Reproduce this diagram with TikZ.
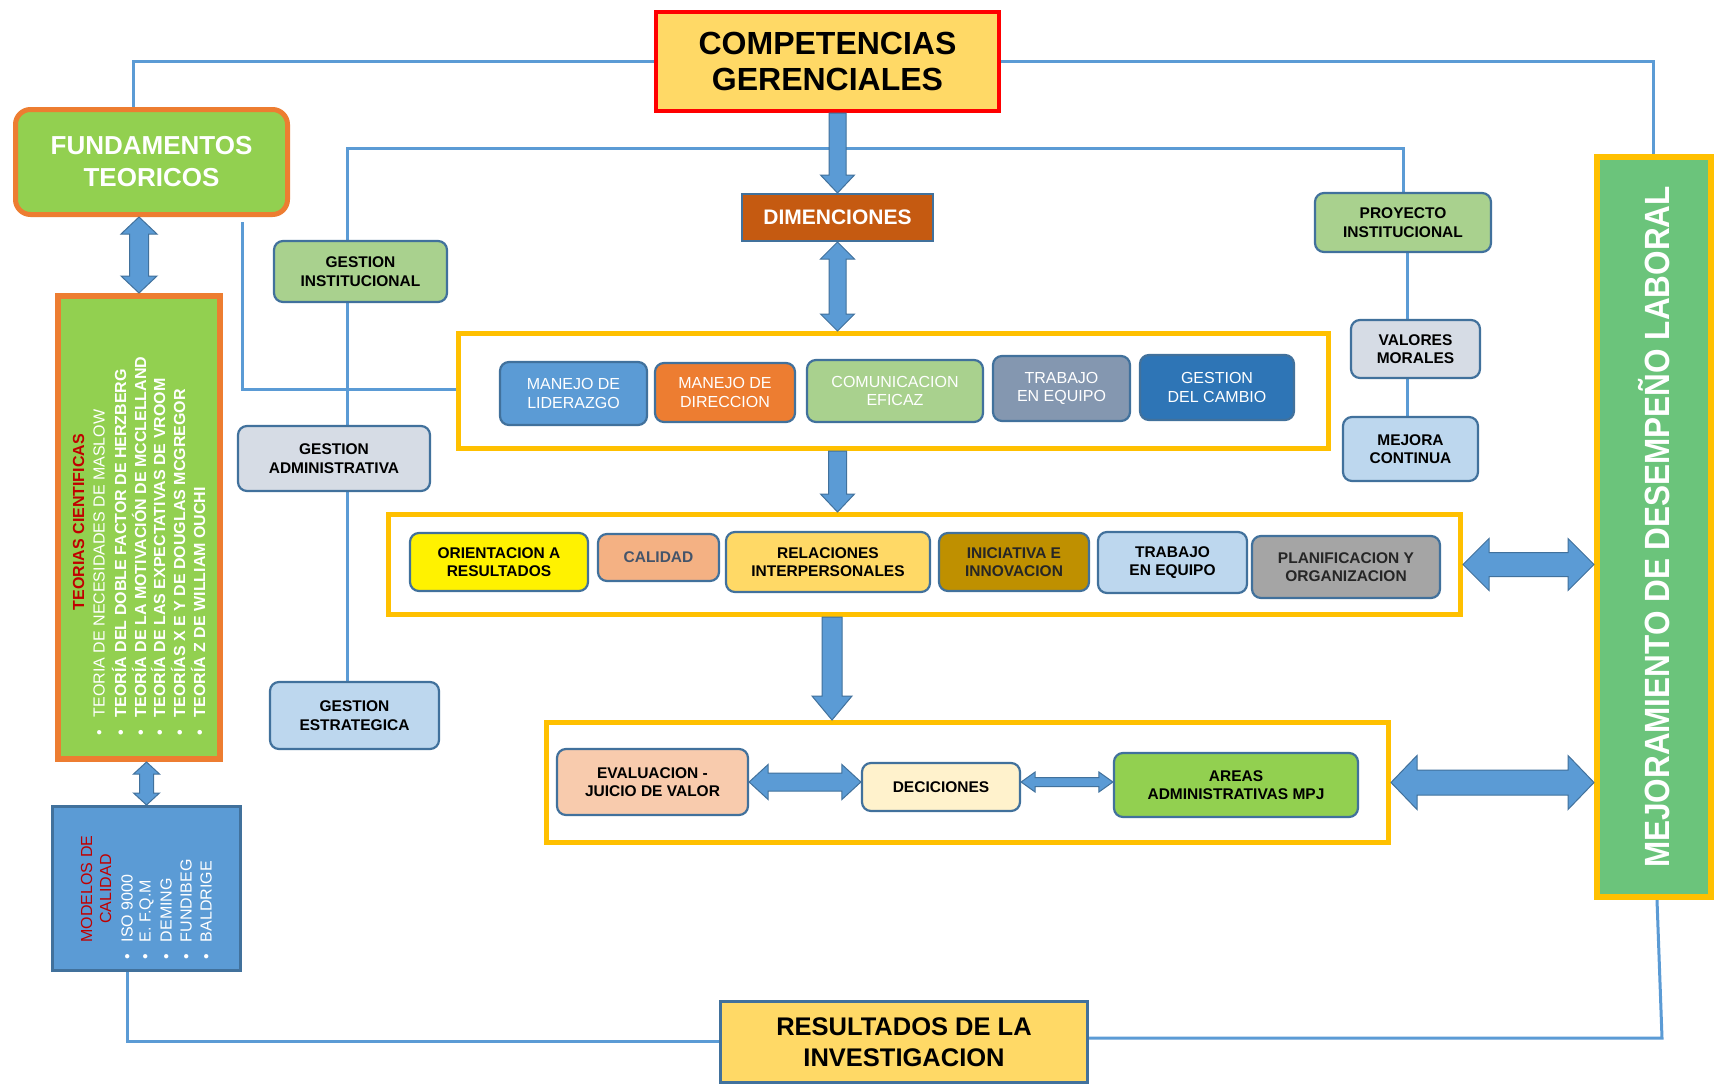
\documentclass[tikz,border=0pt]{standalone}
\usepackage{fontspec}
\usepackage{graphicx}
\setmainfont{Liberation Sans}
\usetikzlibrary{calc}

\definecolor{lineblue}{HTML}{5B9BD5}
\definecolor{edgeblue}{HTML}{41719C}
\definecolor{gold}{HTML}{FFC000}
\definecolor{paleyellow}{HTML}{FFD966}
\definecolor{leafgreen}{HTML}{92D050}
\definecolor{sage}{HTML}{A9D18E}
\definecolor{orangeline}{HTML}{ED7D31}
\definecolor{rust}{HTML}{C55A11}
\definecolor{mist}{HTML}{D6DCE5}
\definecolor{sky}{HTML}{BDD7EE}
\definecolor{slate}{HTML}{8497B0}
\definecolor{deepblue}{HTML}{2E75B6}
\definecolor{peach}{HTML}{F4B183}
\definecolor{ochre}{HTML}{BF9000}
\definecolor{midgray}{HTML}{A5A5A5}
\definecolor{salmon}{HTML}{F8CBAD}
\definecolor{cream}{HTML}{FFF2CC}
\definecolor{grassgreen}{HTML}{6BC47B}
\definecolor{darkred}{HTML}{C00000}
\definecolor{bluegray}{HTML}{44546A}
\definecolor{nearblack}{HTML}{262626}

\pgfdeclarelayer{bgfill}
\pgfdeclarelayer{background}
\pgfsetlayers{bgfill,background,main}

\tikzset{
  conn/.style={draw=lineblue, line width=3pt},
  blockarrow/.style={fill=lineblue, draw=edgeblue, line width=1pt, line join=miter},
  card/.style={draw=edgeblue, line width=2.2pt, rounded corners=9pt, inner sep=1pt,
    align=center, font=\fontsize{15.5}{18.5}\selectfont\bfseries},
  lightcard/.style={card, text=white, font=\fontsize{16}{18.5}\selectfont},
  frame/.style={draw=gold, line width=5pt, fill=white},
  vtext/.style={rotate=90, anchor=west, inner sep=0, text=white},
}

% block arrow pointing down: #1 top, #2 tip, #3 shaft half width, #4 head half width, #5 head length
\newcommand\blockdown[5]{\filldraw[blockarrow] let \p1=(#1), \p2=(#2) in
  (\x1-#3,\y1) -- (\x1+#3,\y1) -- (\x1+#3,\y2+#5) -- (\x1+#4,\y2+#5) -- (\x1,\y2)
  -- (\x1-#4,\y2+#5) -- (\x1-#3,\y2+#5) -- cycle;}
% vertical double block arrow: #1 top tip, #2 bottom tip
\newcommand\blockvboth[5]{\filldraw[blockarrow] let \p1=(#1), \p2=(#2) in
  (\x1,\y1) -- (\x1+#4,\y1-#5) -- (\x1+#3,\y1-#5) -- (\x1+#3,\y2+#5) -- (\x1+#4,\y2+#5)
  -- (\x1,\y2) -- (\x1-#4,\y2+#5) -- (\x1-#3,\y2+#5) -- (\x1-#3,\y1-#5) -- (\x1-#4,\y1-#5) -- cycle;}
% horizontal double block arrow: #1 left tip, #2 right tip
\newcommand\blockhboth[5]{\filldraw[blockarrow] let \p1=(#1), \p2=(#2) in
  (\x1,\y1) -- (\x1+#5,\y1+#4) -- (\x1+#5,\y1+#3) -- (\x2-#5,\y1+#3) -- (\x2-#5,\y1+#4)
  -- (\x2,\y1) -- (\x2-#5,\y1-#4) -- (\x2-#5,\y1-#3) -- (\x1+#5,\y1-#3) -- (\x1+#5,\y1-#4) -- cycle;}

\begin{document}
\begin{tikzpicture}[x=1pt,y=-1pt]
\useasboundingbox (0,0) rectangle (1714,1085);
\begin{pgfonlayer}{bgfill}
  \fill[white] (0,0) rectangle (1714,1085);
\end{pgfonlayer}

% ---------- main headings ----------
\node[draw=red, line width=4pt, fill=paleyellow, minimum width=343, minimum height=99,
  align=center, inner sep=0, font=\fontsize{32}{36}\selectfont\bfseries]
  (comp) at (827.5,61.5) {COMPETENCIAS\\GERENCIALES};

\node[draw=orangeline, line width=5pt, fill=leafgreen, rounded corners=15pt,
  minimum width=272, minimum height=105, align=center, text=white,
  font=\fontsize{26}{32}\selectfont\bfseries] (fund) at (151.5,162) {FUNDAMENTOS\\TEORICOS};

\node[draw=edgeblue, line width=3pt, fill=paleyellow, minimum width=367, minimum height=81,
  align=center, inner sep=0, font=\fontsize{25.5}{31}\selectfont\bfseries]
  (res) at (904,1042) {RESULTADOS DE LA\\INVESTIGACION};

\node[draw=gold, line width=6pt, fill=grassgreen, minimum width=114, minimum height=740,
  text=white, inner sep=0, font=\fontsize{35}{40}\selectfont\bfseries]
  (mej) at (1654,527) {\rotatebox{90}{\scalebox{0.9}[1]{MEJORAMIENTO DE DESEMPEÑO LABORAL}}};

\node[draw=edgeblue, line width=2pt, fill=rust, minimum width=191, minimum height=47,
  text=white, inner sep=0, font=\fontsize{21}{24}\selectfont\bfseries]
  (dim) at (837.5,217.5) {DIMENCIONES};

% ---------- scientific theories ----------
\node[draw=orangeline, line width=6pt, fill=leafgreen, minimum width=162, minimum height=463]
  (teo) at (139,527.5) {};
\node[rotate=90, inner sep=0, text=darkred, font=\fontsize{16}{19}\selectfont\bfseries]
  (teotit) at (78.5,522) {TEORIAS CIENTIFICAS};
\node[vtext, font=\fontsize{16}{19}\selectfont] (teo1) at (99,736)
  {•\hspace{13pt}TEORIA DE NECESIDADES DE MASLOW};
\node[vtext, font=\fontsize{16}{19}\selectfont\bfseries] (teo2) at (119,736)
  {•\hspace{13pt}TEORÍA DEL DOBLE FACTOR DE HERZBERG};
\node[vtext, font=\fontsize{16}{19}\selectfont\bfseries] (teo3) at (139,736)
  {•\hspace{13pt}TEORÍA DE LA MOTIVACIÓN DE MCCLELLAND};
\node[vtext, font=\fontsize{16}{19}\selectfont\bfseries] (teo4) at (158,736)
  {•\hspace{13pt}TEORÍA DE LAS EXPECTATIVAS DE VROOM};
\node[vtext, font=\fontsize{16}{19}\selectfont\bfseries] (teo5) at (178,736)
  {•\hspace{13pt}TEORÍAS X E Y DE DOUGLAS MCGREGOR};
\node[vtext, font=\fontsize{16}{19}\selectfont\bfseries] (teo6) at (198,736)
  {•\hspace{13pt}TEORÍA Z DE WILLIAM OUCHI};

% ---------- quality models ----------
\node[draw=edgeblue, line width=3pt, fill=lineblue, minimum width=188, minimum height=164]
  (mod) at (146.5,888.5) {};
\node[rotate=90, inner sep=0, align=center, text=darkred, font=\fontsize{16}{19}\selectfont]
  (modtit) at (96,889) {MODELOS DE\\CALIDAD};
\node[vtext, font=\fontsize{16}{19}\selectfont] (mod1) at (127,960) {•\hspace{12pt}ISO 9000};
\node[vtext, font=\fontsize{16}{19}\selectfont] (mod2) at (146.5,960) {•\hspace{12pt}E. F.Q.M};
\node[vtext, font=\fontsize{16}{19}\selectfont] (mod3) at (166,960) {•\hspace{12pt}DEMING};
\node[vtext, font=\fontsize{16}{19}\selectfont] (mod4) at (186,960) {•\hspace{12pt}FUNDIBEG};
\node[vtext, font=\fontsize{16}{19}\selectfont] (mod5) at (206,960) {•\hspace{12pt}BALDRIGE};

% ---------- management areas ----------
\node[card, fill=sage, minimum width=173, minimum height=61] (gi) at (360.5,271.5) {GESTION\\INSTITUCIONAL};
\node[card, fill=mist, minimum width=192, minimum height=65] (ga) at (334,458.5) {GESTION\\ADMINISTRATIVA};
\node[card, fill=sky, minimum width=169, minimum height=67] (ge) at (354.5,715.5) {GESTION\\ESTRATEGICA};

\node[card, fill=sage, minimum width=176, minimum height=59] (proy) at (1403,222.5) {PROYECTO\\INSTITUCIONAL};
\node[card, fill=mist, minimum width=129, minimum height=58] (val) at (1415.5,349) {VALORES\\MORALES};
\node[card, fill=sky, minimum width=135, minimum height=64] (mc) at (1410.5,449) {MEJORA\\CONTINUA};

% ---------- dimensions ----------
\node[frame, minimum width=870, minimum height=115] (f1) at (893.5,391) {};
\node[lightcard, fill=lineblue, minimum width=147, minimum height=63] (lid) at (573.5,393.5) {MANEJO DE\\LIDERAZGO};
\node[lightcard, fill=orangeline, minimum width=140, minimum height=59] (dir) at (725,392.5) {MANEJO DE\\DIRECCION};
\node[lightcard, fill=sage, minimum width=176, minimum height=62] (com) at (895,391) {COMUNICACION\\EFICAZ};
\node[lightcard, fill=slate, minimum width=137, minimum height=65] (teqa) at (1061.5,388.5) {TRABAJO\\EN EQUIPO};
\node[lightcard, fill=deepblue, minimum width=154, minimum height=65] (gcam) at (1217,387.5) {GESTION\\DEL CAMBIO};

% ---------- competences ----------
\node[frame, minimum width=1072, minimum height=100] (f2) at (924.5,564.5) {};
\node[card, fill=yellow, minimum width=178, minimum height=58] (ori) at (499,562) {ORIENTACION A\\RESULTADOS};
\node[card, fill=peach, text=bluegray, minimum width=121, minimum height=47] (cal) at (658.5,557.5) {CALIDAD};
\node[card, fill=paleyellow, minimum width=204, minimum height=60] (rel) at (828,562) {RELACIONES\\INTERPERSONALES};
\node[card, fill=ochre, text=nearblack, minimum width=150, minimum height=58] (ini) at (1014,562) {INICIATIVA E\\INNOVACION};
\node[card, fill=sky, minimum width=149, minimum height=61] (teqb) at (1172.5,562.5) {TRABAJO\\EN EQUIPO};
\node[card, fill=midgray, text=nearblack, minimum width=188, minimum height=62] (plan) at (1346,567) {PLANIFICACION Y\\ORGANIZACION};

% ---------- evaluation ----------
\node[frame, minimum width=842, minimum height=120] (f3) at (967.5,782.5) {};
\node[card, fill=salmon, minimum width=191, minimum height=66] (eval) at (652.5,782) {EVALUACION -\\JUICIO DE VALOR};
\node[card, fill=cream, minimum width=158, minimum height=48] (dec) at (941,787) {DECICIONES};
\node[card, fill=leafgreen, minimum width=244, minimum height=64] (areas) at (1236,785) {AREAS\\ADMINISTRATIVAS MPJ};

% ---------- thin connectors ----------
\coordinate (c1) at (133,62);
\coordinate (c2) at (1653,64);
\coordinate (c3) at (347,148);
\coordinate (c5top) at (242,222);
\coordinate (c5) at (242,389);
\coordinate (c7) at (1657,900);
\coordinate (c8) at (1662,1038);
\coordinate (c9) at (127,1041);
\coordinate (c10) at (1407,0);
\coordinate (a4) at (832,0);

\begin{pgfonlayer}{background}
  \draw[conn] (comp.west) -| (fund.north -| c1);
  \draw[conn] (comp.east) -| (mej.north -| c2);
  \draw[conn] (gi.north -| c3) -- (c3) -| (proy.north);
  \draw[conn] (gi.south -| c3) -- (ga.north -| c3);
  \draw[conn] (ga.south -| c3) -- (ge.north -| c3);
  \draw[conn] (c5top) -- (c5) -- (f1.west |- c5);
  \draw[conn] (proy.south -| c10) -- (val.north -| c10);
  \draw[conn] (val.south -| c10) -- (mc.north -| c10);
  \draw[conn] (mod.south -| c9) -- (c9) -- (res.west |- c9);
  \draw[conn] (mej.south -| c7) -- (c8) -- (res.east |- c8);
\end{pgfonlayer}

% ---------- block arrows ----------
\blockdown{comp.south -| dim.north}{dim.north}{8.5pt}{17pt}{18pt}
\blockvboth{dim.south}{f1.north -| dim.south}{8.5pt}{17pt}{17pt}
\blockdown{f1.south -| dim.north}{f2.north -| dim.north}{9pt}{17pt}{18pt}
\blockdown{f2.south -| a4}{f3.north -| a4}{10pt}{20pt}{24pt}
\blockvboth{fund.south -| teo.north}{teo.north}{9.5pt}{18pt}{17pt}
\blockvboth{teo.south -| mod.north}{mod.north}{7pt}{13pt}{12pt}
\blockhboth{f2.east}{mej.west |- f2.east}{12pt}{26pt}{26pt}
\blockhboth{f3.east}{mej.west |- f3.east}{12.5pt}{27pt}{26pt}
\blockhboth{eval.east}{dec.west |- eval.east}{9pt}{17.5pt}{19pt}
\blockhboth{dec.east |- eval.east}{areas.west |- eval.east}{4.5pt}{10pt}{14pt}
\end{tikzpicture}
\end{document}
